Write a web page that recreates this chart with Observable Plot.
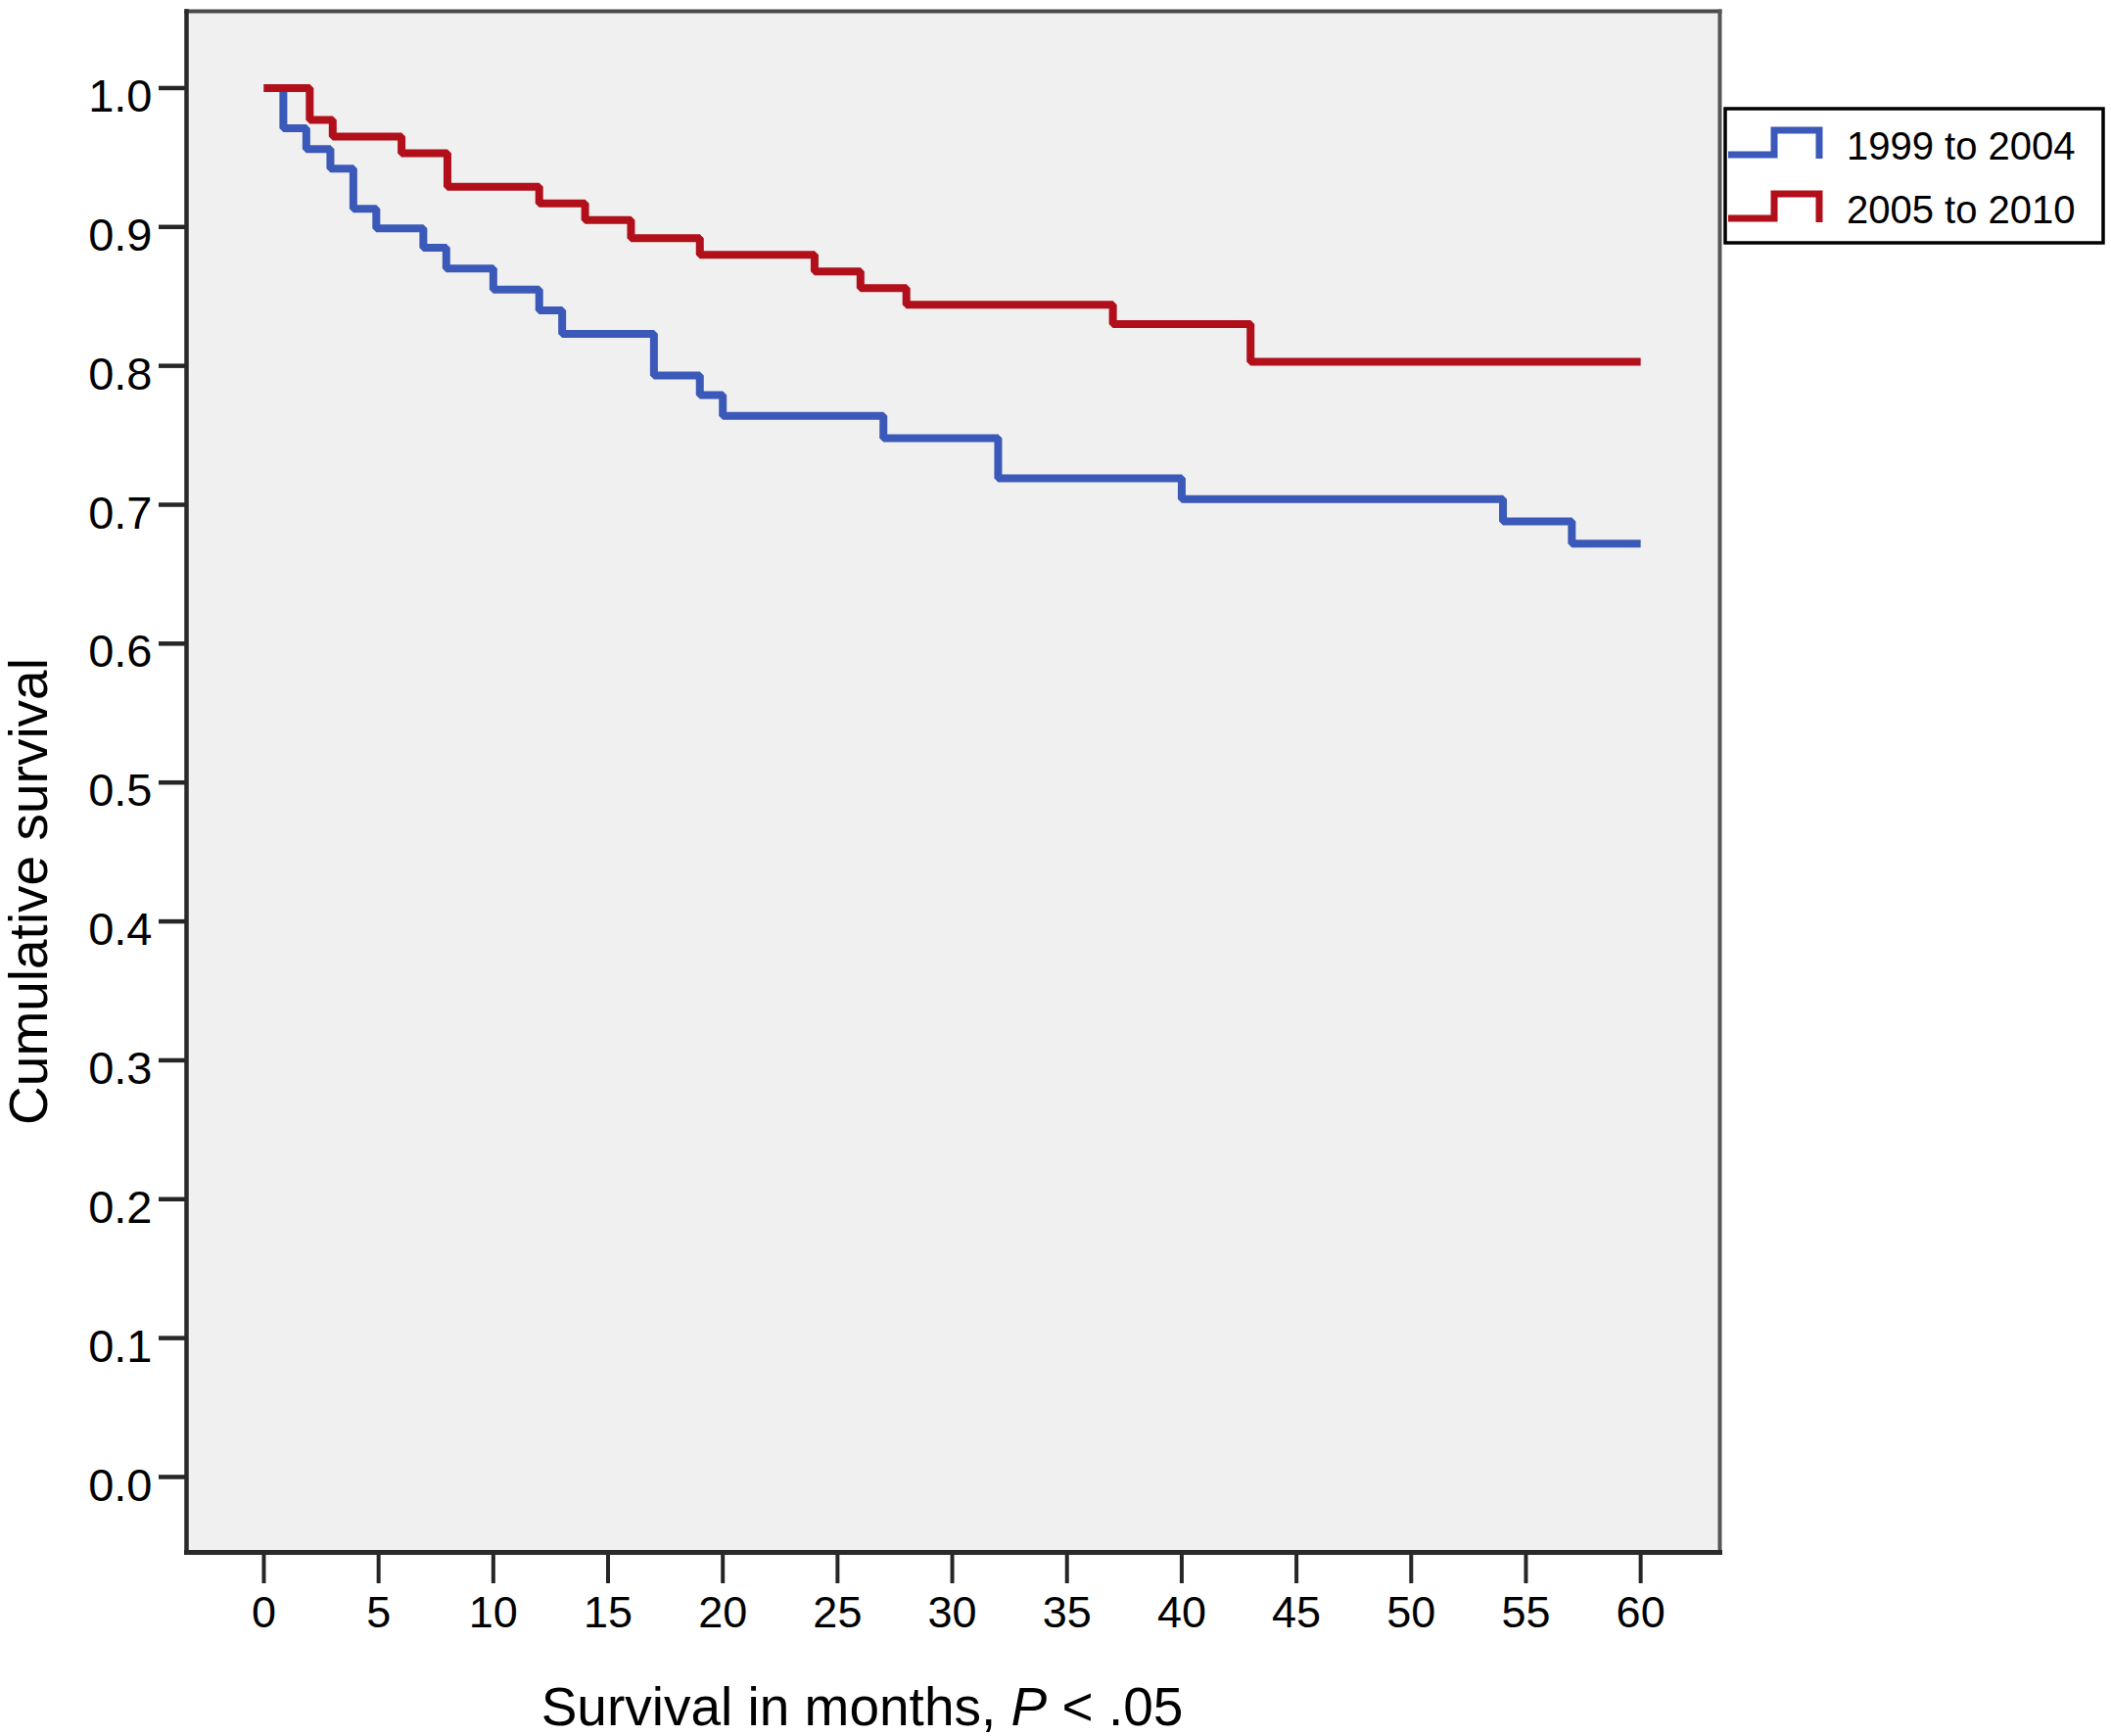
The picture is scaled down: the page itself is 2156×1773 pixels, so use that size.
<!DOCTYPE html>
<html>
<head>
<meta charset="utf-8">
<script src="https://cdn.jsdelivr.net/npm/d3@7"></script>
<script src="https://cdn.jsdelivr.net/npm/@observablehq/plot@0.6"></script>
<style>
  html, body { margin: 0; padding: 0; background: #fff; }
  svg g[aria-label^="y-axis"] text { font-size: 47px; fill: #000; }
  svg g[aria-label^="x-axis"] text { font-size: 45px; fill: #000; }
  svg g[aria-label^="y-axis"] line, svg g[aria-label^="y-axis"] path { stroke: #262626; stroke-width: 4.5px; }
  svg g[aria-label^="x-axis"] line, svg g[aria-label^="x-axis"] path { stroke: #262626; stroke-width: 4px; }
</style>
</head>
<body>
<div id="chart"></div>
<script>
// ---- data ----
const seriesNames = ["1999 to 2004", "2005 to 2010"];
const seriesColors = ["#3b59b8", "#b10f1a"];

const times1999 = [0, 0.85, 1.85, 2.9, 3.9, 4.9, 6.95, 7.95, 10, 12, 13, 17, 19, 20, 27, 32, 40, 54, 57, 60];
const surv1999  = [1.0, 0.971, 0.956, 0.942, 0.913, 0.899, 0.885, 0.870, 0.855, 0.840, 0.823, 0.793, 0.779, 0.764, 0.748, 0.719, 0.704, 0.688, 0.672, 0.672];

const times2005 = [0, 2, 3, 6, 8, 12, 14, 16, 19, 24, 26, 28, 37, 43, 60];
const surv2005  = [1.0, 0.977, 0.965, 0.953, 0.929, 0.917, 0.905, 0.892, 0.880, 0.868, 0.856, 0.844, 0.830, 0.803, 0.803];

const xTicks = [0, 5, 10, 15, 20, 25, 30, 35, 40, 45, 50, 55, 60];
const yTicks = [0.0, 0.1, 0.2, 0.3, 0.4, 0.5, 0.6, 0.7, 0.8, 0.9, 1.0];

const xTitle = "Survival in months, P < .05";
const yTitle = "Cumulative survival";

// ---- table for Plot ----
const rows = [
  ...times1999.map((t, i) => ({series: seriesNames[0], t, s: surv1999[i]})),
  ...times2005.map((t, i) => ({series: seriesNames[1], t, s: surv2005[i]}))
];

const W = 2156, H = 1773;
const FONT = "'Liberation Sans', Arial, Helvetica, sans-serif";

const svg = Plot.plot({
  width: W,
  height: H,
  marginLeft: 190,
  marginRight: 400,
  marginTop: 11,
  marginBottom: 188,
  style: {fontFamily: FONT, background: "#fff", color: "#000", overflow: "visible"},
  x: {domain: [-3.37, 63.45], ticks: xTicks, tickSize: 32, tickPadding: 13, tickFormat: d => String(d), label: null},
  y: {domain: [-0.0543, 1.0553], ticks: yTicks, tickSize: 28, tickPadding: 7, tickFormat: d => d.toFixed(1), label: null},
  color: {domain: seriesNames, range: seriesColors},
  marks: [
    Plot.frame({fill: "#f0f0f0", stroke: null}),
    Plot.line(rows, {
      x: "t", y: "s", z: "series", stroke: "series",
      curve: "step-after", strokeWidth: 8,
      strokeLinejoin: "miter", strokeLinecap: "butt"
    }),
    Plot.frame({anchor: "top", stroke: "#4a4a4a", strokeWidth: 4}),
    Plot.frame({anchor: "right", stroke: "#555555", strokeWidth: 4}),
    Plot.frame({anchor: "left", stroke: "#2a2a2a", strokeWidth: 4.5}),
    Plot.frame({anchor: "bottom", stroke: "#2a2a2a", strokeWidth: 5}),
    Plot.text([xTitle], {
      text: d => d, frameAnchor: "bottom", textAnchor: "middle", lineAnchor: "bottom",
      dx: -93, dy: 176, fontSize: 55, fill: "#000"
    }),
    Plot.text([yTitle], {
      text: d => d, frameAnchor: "left", textAnchor: "middle", lineAnchor: "middle", rotate: -90,
      dx: -160, dy: 112, fontSize: 55, fill: "#000"
    })
  ]
});

// shift y tick labels slightly down (as in the reference)
d3.select(svg).selectAll('g[aria-label^="y-axis"] text').each(function () {
  const p = this.parentNode;
  const g = document.createElementNS("http://www.w3.org/2000/svg", "g");
  g.setAttribute("transform", "translate(0,9)");
  p.insertBefore(g, this);
  g.appendChild(this);
});

// italic P in the x title
d3.select(svg).selectAll("text").each(function () {
  if (this.textContent === xTitle) {
    this.textContent = "";
    const t = d3.select(this);
    t.append("tspan").text("Survival in months, ");
    t.append("tspan").attr("font-style", "italic").text("P");
    t.append("tspan").text(" < .05");
  }
});

// legend (SPSS style box at the right)
const lg = d3.select(svg).append("g").attr("font-family", FONT).attr("text-anchor", "start");
lg.append("rect")
  .attr("x", 1762).attr("y", 111).attr("width", 386).attr("height", 137)
  .attr("fill", "#fff").attr("stroke", "#000").attr("stroke-width", 3.5);
const rowsY = [0, 65];
seriesNames.forEach((name, i) => {
  const dy = rowsY[i];
  lg.append("path")
    .attr("d", `M1765,${158 + dy}H1812V${133 + dy}H1858V${162 + dy}`)
    .attr("fill", "none").attr("stroke", seriesColors[i])
    .attr("stroke-width", 7).attr("stroke-linejoin", "miter");
  lg.append("text")
    .attr("x", 1886).attr("y", 163 + dy)
    .attr("text-anchor", "start")
    .attr("font-size", 40).attr("fill", "#000")
    .text(name);
});

document.getElementById("chart").appendChild(svg);
</script>
</body>
</html>
